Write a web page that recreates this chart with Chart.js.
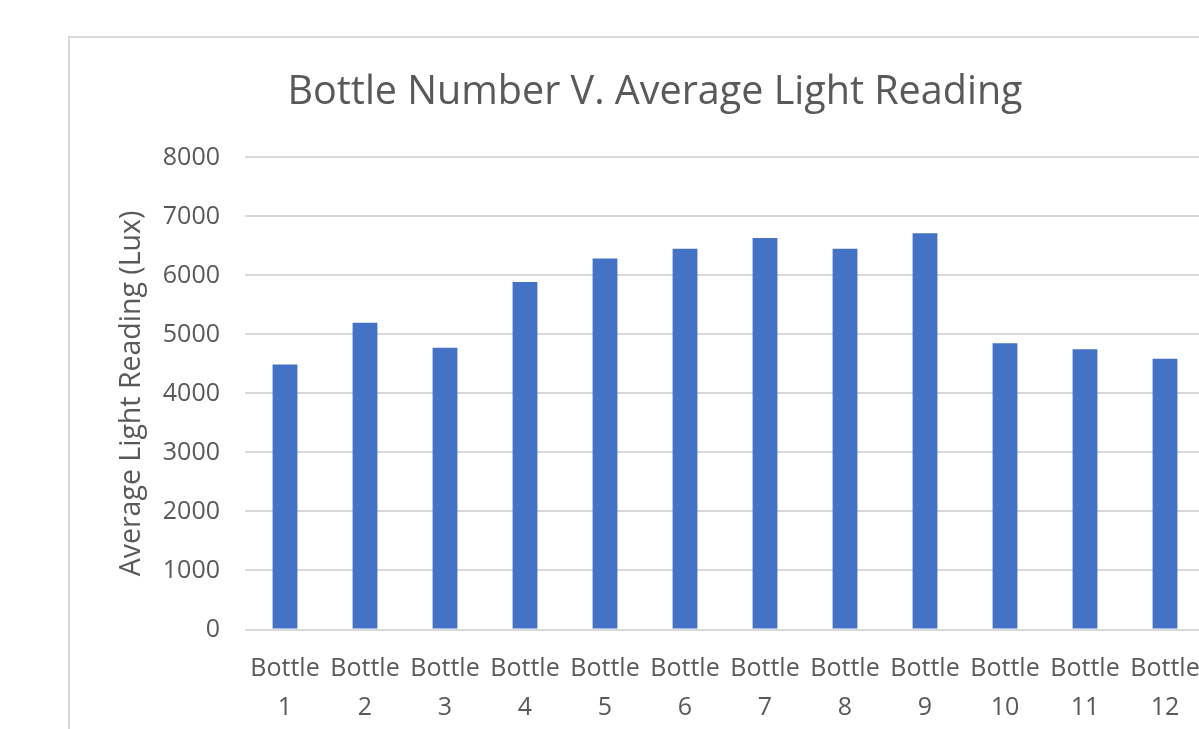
<!DOCTYPE html>
<html>
<head>
<meta charset="utf-8">
<script src="https://cdn.jsdelivr.net/npm/chart.js@4"></script>
<style>
    body { margin: 0; overflow: hidden; background: #fff; }
    #frame { position: absolute; left: 68px; top: 36px; width: 1300px; height: 800px; border: 2px solid #d9d9d9; }
</style>
</head>
<body>
<div id="frame"><canvas id="chart" width="1204" height="709"></canvas></div>
<script>
const bottles = ["Bottle 1", "Bottle 2", "Bottle 3", "Bottle 4", "Bottle 5", "Bottle 6",
    "Bottle 7", "Bottle 8", "Bottle 9", "Bottle 10", "Bottle 11", "Bottle 12"];
const lightReadings = [4490, 5200, 4775, 5890, 6285, 6450, 6635, 6450, 6715, 4850, 4750, 4590];
const yTicks = [0, 1000, 2000, 3000, 4000, 5000, 6000, 7000, 8000];

const textColor = "#595959";
const font = "'Open Sans', 'Noto Sans', sans-serif";

new Chart(document.querySelector("#chart"), {
    type: "bar",
    data: {
        labels: bottles.map(b => b.split(" ")),
        datasets: [{
            label: "Average Light Reading",
            data: lightReadings,
            backgroundColor: "#4472C4",
            barPercentage: 0.62,
            categoryPercentage: 0.5,
        }]
    },
    options: {
        responsive: false,
        animation: false,
        layout: { padding: { right: 69, left: 35 } },
        scales: {
            x: {
                grid: { display: false, drawTicks: false },
                border: { display: false },
                ticks: {
                    color: textColor,
                    font: { family: font, size: 25, lineHeight: 1.55 },
                    padding: 20,
                    maxRotation: 0,
                    autoSkip: false,
                }
            },
            y: {
                min: 0,
                max: 8000,
                afterBuildTicks: (scale) => { scale.ticks = yTicks.map(v => ({ value: v })); },
                afterFit: (scale) => { scale.width = 140; },
                grid: { color: "#d9d9d9", lineWidth: 2, drawTicks: false },
                border: { display: false },
                ticks: {
                    color: textColor,
                    font: { family: font, size: 25 },
                    padding: 25,
                    callback: (value) => String(value),
                },
                title: {
                    display: true,
                    text: "Average Light Reading (Lux)",
                    color: textColor,
                    font: { family: font, size: 28.5 },
                    padding: { top: 10, bottom: 0 },
                }
            }
        },
        plugins: {
            legend: { display: false },
            tooltip: { enabled: false },
            title: {
                display: true,
                text: "Bottle Number V. Average Light Reading",
                color: textColor,
                font: { family: font, size: 39.5, weight: "normal", lineHeight: 1.2 },
                padding: { top: 31, bottom: 41 },
            }
        }
    }
});
</script>
</body>
</html>
